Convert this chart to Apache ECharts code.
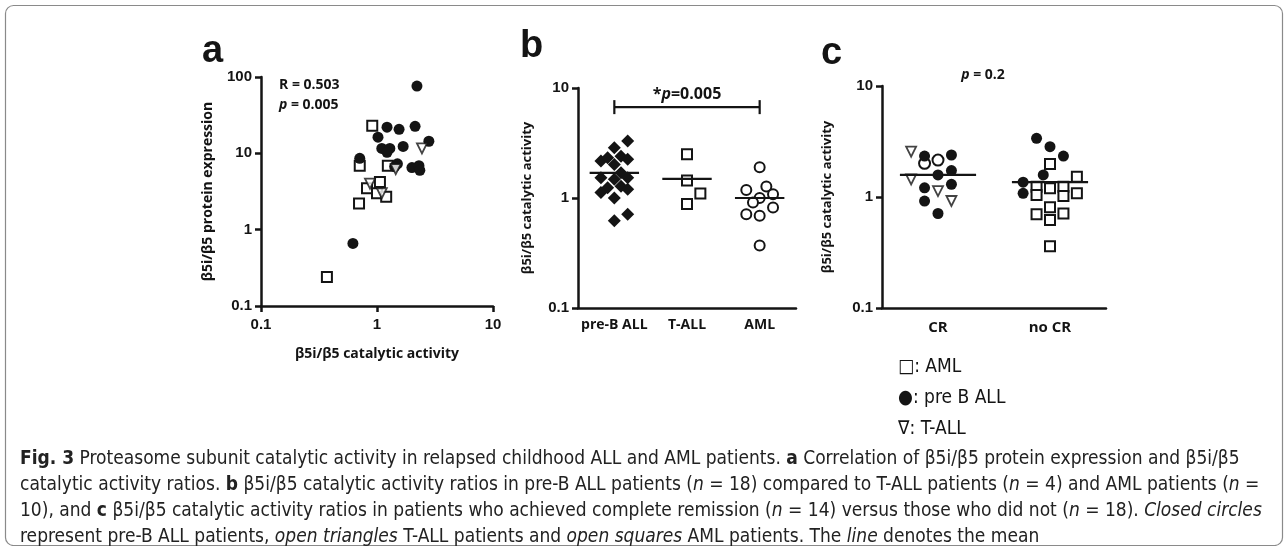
<!DOCTYPE html>
<html>
<head>
<meta charset="utf-8">
<script src="https://cdn.jsdelivr.net/npm/echarts@6/dist/echarts.min.js"></script>
<style>
  html, body { margin: 0; padding: 0; background: #fff; }
  #fig { width: 1288px; height: 546px; }
</style>
</head>
<body>
<div id="fig"></div>
<script>
// ---- panel a: protein expression vs catalytic activity ----
const aAmlX = [0.91, 0.71, 1.24, 1.06, 0.82, 1.0, 1.2, 0.70, 0.37]
const aAmlY = [23, 6.9, 6.9, 4.2, 3.5, 3.0, 2.7, 2.2, 0.24]
const aPreBX = [2.21, 1.22, 1.55, 2.13, 1.02, 1.10, 1.29, 1.22, 1.68, 2.8, 0.71, 1.5, 1.42, 2.0, 2.3, 2.34, 0.62]
const aPreBY = [76, 22, 20.6, 22.6, 16.3, 11.6, 11.6, 10.3, 12.3, 14.4, 8.6, 7.3, 6.7, 6.5, 6.9, 6.0, 0.66]
const aTallX = [0.87, 1.1, 2.44, 1.45]
const aTallY = [4.0, 3.0, 11.6, 6.2]

// ---- panel b: catalytic activity per group; [column slot, value] ----
const bGroups = ['pre-B ALL', 'T-ALL', 'AML']
const bPreB = [[2, 3.3], [0, 2.87], [-2, 2.17], [-1, 2.32], [1, 2.4], [2, 2.25], [0, 2.02], [-2, 1.53], [1, 1.70],
  [2, 1.53], [0, 1.48], [-1, 1.24], [-2, 1.12], [1, 1.28], [2, 1.20], [0, 1.0], [0, 0.62], [2, 0.71]]
const bTall = [[0, 2.5], [0, 1.44], [2, 1.10], [0, 0.88]]
const bAml = [[0, 1.90], [-2, 1.18], [1, 1.27], [2, 1.08], [0, 1.0], [-1, 0.91], [2, 0.82], [-2, 0.71], [0, 0.69], [0, 0.37]]
const bMeans = [1.69, 1.49, 1.0]
const bBracket = [1, 3, 6.7]

// ---- panel c: CR vs no CR; [column slot, value] ----
const cGroups = ['CR', 'no CR']
const cCrTri = [[-2, 2.56], [-2, 1.44], [0, 1.13], [1, 0.92]]
const cCrDot = [[-1, 2.34], [1, 2.39], [0, 1.58], [1, 1.73], [-1, 1.21], [1, 1.30], [-1, 0.92], [0, 0.71]]
const cCrOpen = [[-1, 2.01], [0, 2.15]]
const cNoDot = [[-1, 3.38], [0, 2.84], [1, 2.34], [-0.5, 1.58], [-2, 1.36], [-2, 1.08]]
const cNoSq = [[0, 1.98], [2, 1.52], [-1, 1.24], [0, 1.20], [1, 1.24], [-1, 1.04], [1, 1.02], [2, 1.08],
  [0, 0.81], [-1, 0.70], [1, 0.71], [0, 0.62], [0, 0.36]]
const cMeans = [1.58, 1.36]

const captionLines = [
  '{b|Fig. 3} Proteasome subunit catalytic activity in relapsed childhood ALL and AML patients. {b|a} Correlation of β5i/β5 protein expression and β5i/β5',
  'catalytic activity ratios. {b|b} β5i/β5 catalytic activity ratios in pre-B ALL patients ({i|n} = 18) compared to T-ALL patients ({i|n} = 4) and AML patients ({i|n} =',
  '10), and {b|c} β5i/β5 catalytic activity ratios in patients who achieved complete remission ({i|n} = 14) versus those who did not ({i|n} = 18). {i|Closed circles}',
  'represent pre-B ALL patients, {i|open triangles} T-ALL patients and {i|open squares} AML patients. The {i|line} denotes the mean'
]
const legendLines = ['□: AML', '●: pre B ALL', '∇: T-ALL']

const INK = '#141414'
const NUM = 'Liberation Sans, Arial, sans-serif'
const CAP = '"Liberation Sans Narrow", "DejaVu Sans Condensed", sans-serif'
const SLOT_B = 0.092
const SLOT_C = 0.12
const HALF = 0.34

const place = (pts, g, slot) => pts.map(p => [g + p[0] * slot, p[1]])
const zip = (xs, ys) => xs.map((x, i) => [x, ys[i]])

const logAxis = (gi, min, max, extra) => Object.assign({
  type: 'log', logBase: 10, gridIndex: gi, min, max,
  axisLine: { show: true, lineStyle: { color: INK, width: 2.5 } },
  axisTick: { show: true, length: 6, lineStyle: { color: INK, width: 2.5 } },
  axisLabel: { color: INK, fontFamily: NUM, fontWeight: 'bold', fontSize: 15, margin: 9 },
  splitLine: { show: false }, minorTick: { show: false }
}, extra)

const axisName = {
  color: INK, fontFamily: 'Open Sans, sans-serif', fontWeight: 'bold', fontSize: 13
}

const meanSeries = (xi, yi, means) => ({
  type: 'custom', xAxisIndex: xi, yAxisIndex: yi, silent: true, z: 5,
  data: means.map((m, i) => [i + 1, m]),
  renderItem: (params, api) => {
    const p1 = api.coord([api.value(0) - HALF, api.value(1)])
    const p2 = api.coord([api.value(0) + HALF, api.value(1)])
    return { type: 'line', shape: { x1: p1[0], y1: p1[1], x2: p2[0], y2: p2[1] }, style: { stroke: INK, lineWidth: 2.2 } }
  }
})

const open = (sym, size, extra) => Object.assign({
  type: 'scatter', symbol: sym, symbolSize: size,
  itemStyle: { color: '#fff', borderColor: INK, borderWidth: 2, opacity: 1 }
}, extra)
const filled = (sym, size, extra) => Object.assign({
  type: 'scatter', symbol: sym, symbolSize: size,
  itemStyle: { color: INK, opacity: 1 }
}, extra)

const catAxis = (gi, data, size, margin) => ({
  type: 'category', gridIndex: gi, data, boundaryGap: true,
  axisLine: { lineStyle: { color: INK, width: 2.5 } },
  axisTick: { alignWithLabel: true, length: 6, lineStyle: { color: INK, width: 2.5 } },
  axisLabel: { interval: 0, color: INK, fontFamily: 'Open Sans, sans-serif', fontWeight: 'bold', fontSize: size, margin }
})

const chart = echarts.init(document.getElementById('fig'))

const option = {
  animation: false,
  backgroundColor: '#fff',
  grid: [
    { left: 261, top: 77, width: 232, height: 229, outerBoundsMode: 'none' },
    { left: 578, top: 88, width: 218, height: 220, outerBoundsMode: 'none' },
    { left: 882, top: 86, width: 224, height: 222, outerBoundsMode: 'none' }
  ],
  xAxis: [
    logAxis(0, 0.1, 10, {
      name: 'β5i/β5 catalytic activity', nameLocation: 'middle', nameGap: 41,
      nameTextStyle: Object.assign({}, axisName, { fontSize: 14 }),
      axisLabel: { color: INK, fontFamily: NUM, fontWeight: 'bold', fontSize: 15, margin: 11 }
    }),
    catAxis(1, bGroups, 14, 10),
    { type: 'value', gridIndex: 1, min: 0.5, max: 3.5, show: false },
    catAxis(2, cGroups, 15, 12),
    { type: 'value', gridIndex: 2, min: 0.5, max: 2.5, show: false }
  ],
  yAxis: [
    logAxis(0, 0.1, 100, {
      name: 'β5i/β5 protein expression', nameLocation: 'middle', nameGap: 46,
      nameTextStyle: Object.assign({}, axisName, { fontSize: 14 })
    }),
    logAxis(1, 0.1, 10, {
      name: 'β5i/β5 catalytic activity', nameLocation: 'middle', nameGap: 44, nameTextStyle: axisName
    }),
    logAxis(2, 0.1, 10, {
      name: 'β5i/β5 catalytic activity', nameLocation: 'middle', nameGap: 48, nameTextStyle: axisName
    })
  ],
  series: [
    // panel a
    open('rect', 10, { xAxisIndex: 0, yAxisIndex: 0, data: zip(aAmlX, aAmlY) }),
    filled('circle', 11, { xAxisIndex: 0, yAxisIndex: 0, data: zip(aPreBX, aPreBY) }),
    open('triangle', 10, { xAxisIndex: 0, yAxisIndex: 0, symbolRotate: 180, data: zip(aTallX, aTallY),
      itemStyle: { color: '#fff', borderColor: INK, borderWidth: 1.8 } }),
    // panel b
    filled('diamond', 13, { xAxisIndex: 2, yAxisIndex: 1, data: place(bPreB, 1, SLOT_B) }),
    open('rect', 10, { xAxisIndex: 2, yAxisIndex: 1, data: place(bTall, 2, SLOT_B) }),
    open('circle', 10, { xAxisIndex: 2, yAxisIndex: 1, data: place(bAml, 3, SLOT_B) }),
    meanSeries(2, 1, bMeans),
    {
      type: 'custom', xAxisIndex: 2, yAxisIndex: 1, silent: true,
      data: [bBracket],
      renderItem: (params, api) => {
        const l = api.coord([api.value(0), api.value(2)])
        const r = api.coord([api.value(1), api.value(2)])
        const line = (x1, y1, x2, y2) => ({ type: 'line', shape: { x1, y1, x2, y2 }, style: { stroke: INK, lineWidth: 2.2 } })
        return {
          type: 'group', children: [
            line(l[0], l[1], r[0], r[1]),
            line(l[0], l[1] - 7, l[0], l[1] + 7),
            line(r[0], r[1] - 7, r[0], r[1] + 7),
            {
              type: 'text', x: (l[0] + r[0]) / 2, y: l[1] - 13,
              style: {
                text: '*{i|p}=0.005', align: 'center', verticalAlign: 'middle',
                font: 'bold 16px "Open Sans", sans-serif', fill: INK,
                rich: { i: { fontStyle: 'italic', fontWeight: 'bold', fontSize: 16, fontFamily: 'Open Sans, sans-serif', fill: INK } }
              }
            }
          ]
        }
      }
    },
    // panel c
    open('triangle', 10, { xAxisIndex: 4, yAxisIndex: 2, symbolRotate: 180, data: place(cCrTri, 1, SLOT_C),
      itemStyle: { color: '#fff', borderColor: INK, borderWidth: 1.8 } }),
    open('circle', 11, { xAxisIndex: 4, yAxisIndex: 2, data: place(cCrOpen, 1, SLOT_C) }),
    filled('circle', 11, { xAxisIndex: 4, yAxisIndex: 2, data: place(cCrDot, 1, SLOT_C).concat(place(cNoDot, 2, SLOT_C)) }),
    open('rect', 10, { xAxisIndex: 4, yAxisIndex: 2, data: place(cNoSq, 2, SLOT_C) }),
    meanSeries(4, 2, cMeans)
  ],
  graphic: [
    { type: 'rect', shape: { x: 5.5, y: 5.5, width: 1277, height: 540, r: 8 }, style: { fill: 'none', stroke: '#8a8a8a', lineWidth: 1.2 }, silent: true },
    { type: 'text', x: 202, y: 33, style: { text: 'a', font: 'bold 38px "Liberation Sans", Arial, sans-serif', fill: INK } },
    { type: 'text', x: 520, y: 28, style: { text: 'b', font: 'bold 38px "Liberation Sans", Arial, sans-serif', fill: INK } },
    { type: 'text', x: 821, y: 35, style: { text: 'c', font: 'bold 38px "Liberation Sans", Arial, sans-serif', fill: INK } },
    {
      type: 'text', x: 279, y: 75,
      style: {
        text: 'R = 0.503\n{i|p} = 0.005', lineHeight: 20,
        font: 'bold 14px "Open Sans", sans-serif', fill: INK,
        rich: { i: { fontStyle: 'italic', fontWeight: 'bold', fontSize: 14, fontFamily: 'Open Sans, sans-serif', fill: INK, lineHeight: 20 } }
      }
    },
    {
      type: 'text', x: 983, y: 75,
      style: {
        text: '{i|p} = 0.2', align: 'center', verticalAlign: 'middle',
        font: 'bold 14px "Open Sans", sans-serif', fill: INK,
        rich: { i: { fontStyle: 'italic', fontWeight: 'bold', fontSize: 14, fontFamily: 'Open Sans, sans-serif', fill: INK } }
      }
    }
  ].concat(legendLines.map((t, k) => ({
    type: 'text', x: 898, y: 367 + k * 31,
    style: { text: t, font: '19px ' + CAP, fill: INK, verticalAlign: 'middle' }
  }))).concat(captionLines.map((t, k) => ({
    type: 'text', x: 20, y: 459 + k * 26,
    style: {
      text: t, verticalAlign: 'middle', font: '19px ' + CAP, fill: '#222',
      rich: {
        b: { fontWeight: 'bold', fontSize: 19, fontFamily: CAP, fill: '#222' },
        i: { fontStyle: 'italic', fontSize: 19, fontFamily: CAP, fill: '#222' }
      }
    }
  })))
}

chart.setOption(option)
</script>
</body>
</html>
